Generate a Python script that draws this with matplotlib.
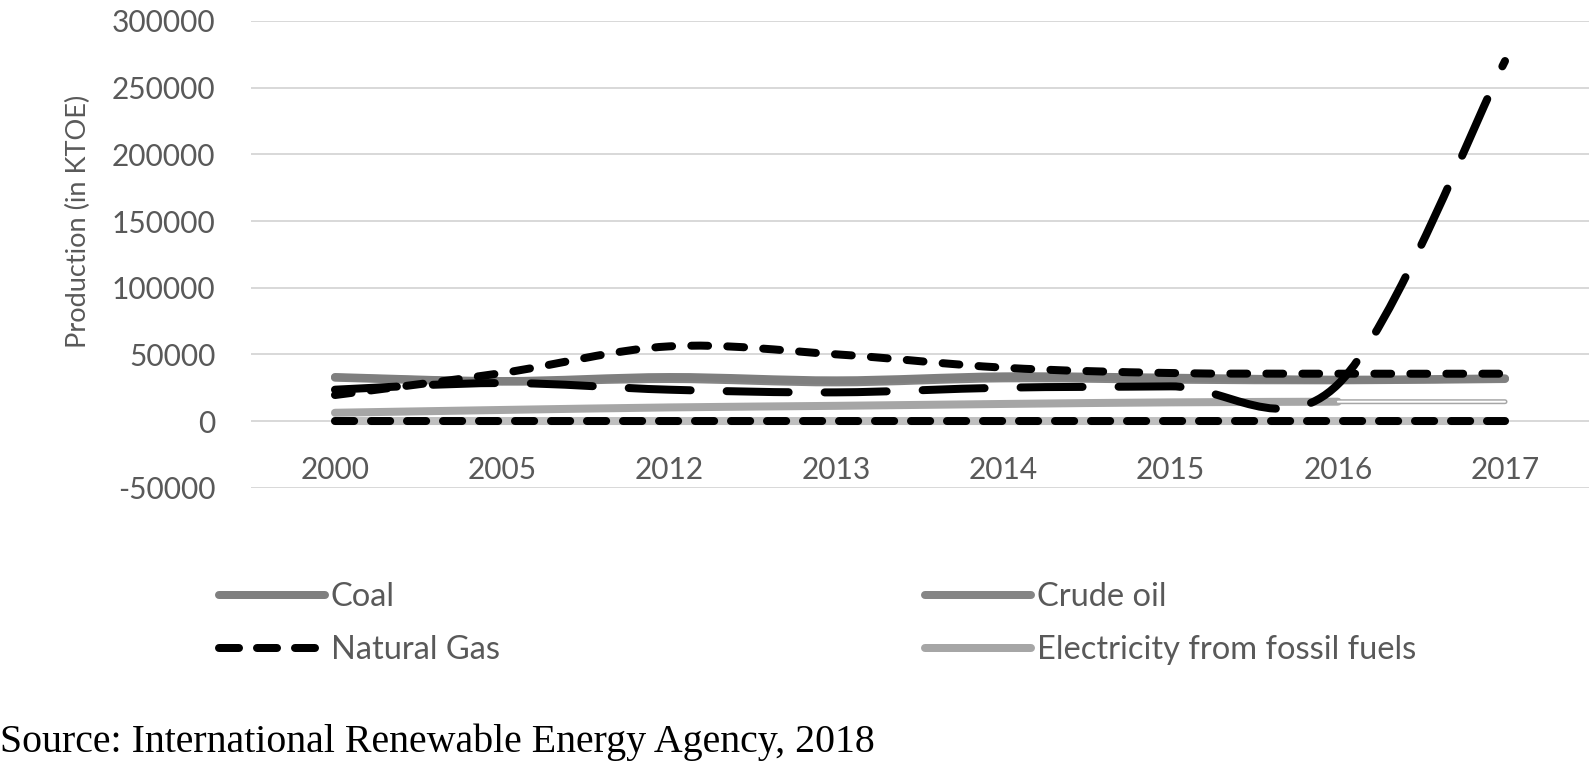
import matplotlib
matplotlib.use("Agg")
import matplotlib.pyplot as plt
from matplotlib.path import Path
from matplotlib.patches import PathPatch
from matplotlib.lines import Line2D

# ---- data (values in KTOE) ----
years = ['2000', '2005', '2012', '2013', '2014', '2015', '2016', '2017']
coal = [33000, 30000, 33000, 30500, 33500, 32500, 31000, 32000]
crude_oil = [32500, 29500, 31500, 29000, 32000, 31000, 30500, 31500]
natural_gas = [19500, 36000, 56000, 50000, 40000, 36000, 35500, 35500]
electricity = [6200, 8300, 10200, 11400, 12800, 14000, 14500]          # 2000-2016
series_long_dash = [23500, 28500, 23500, 21500, 25000, 26000, 27500, 270000]
series_zero_dots = [0, 0, 0, 0, 0, 0, 0, 0]
series_zero_gray = [0, 0, 0, 0, 0, 0, 0, 0]
series_hollow = [14500, 14500]                                          # 2016-2017
yticks = [-50000, 0, 50000, 100000, 150000, 200000, 250000, 300000]

plt.rcParams['font.family'] = ['Lato', 'DejaVu Sans']
TXT = '#595959'
PX = 72 / 100.0  # points per pixel at dpi 100

fig = plt.figure(figsize=(15.94, 7.62), dpi=100)
ax = fig.add_axes([251.4 / 1594, (762 - 487.7) / 762, 1337.2 / 1594, 466.7 / 762])


def smooth_path(xs, ys):
    """Excel-like smoothed line: cubic Bezier through the points."""
    n = len(xs)
    verts = [(xs[0], ys[0])]
    codes = [Path.MOVETO]
    for i in range(n - 1):
        x0, y0 = xs[i], ys[i]
        x1, y1 = xs[i + 1], ys[i + 1]
        xp, yp = (xs[i - 1], ys[i - 1]) if i > 0 else (x0, y0)
        xn, yn = (xs[i + 2], ys[i + 2]) if i + 2 < n else (x1, y1)
        c1 = (x0 + (x1 - xp) / 6.0, y0 + (y1 - yp) / 6.0)
        c2 = (x1 - (xn - x0) / 6.0, y1 - (yn - y0) / 6.0)
        verts += [c1, c2, (x1, y1)]
        codes += [Path.CURVE4] * 3
    return Path(verts, codes)


def draw(start, values, color, lw_px, dashes=None, z=2):
    xs = list(range(start, start + len(values)))
    ls = '-' if dashes is None else (0, dashes)
    p = PathPatch(smooth_path(xs, values), fill=False, edgecolor=color,
                  lw=lw_px * PX, linestyle=ls, capstyle='round',
                  joinstyle='round', zorder=z)
    ax.add_patch(p)


LW = 8
draw(0, series_zero_gray, '#bfbfbf', LW, z=2)
draw(0, electricity, '#a6a6a6', LW, z=2)
draw(6, series_hollow, '#a6a6a6', 5, z=2)
draw(6, series_hollow, 'white', 2, z=2.05)
draw(0, crude_oil, '#858585', LW, z=2.1)
draw(0, coal, '#7f7f7f', LW, z=2.2)
draw(0, series_zero_dots, 'black', LW, dashes=(2.4, 2.1), z=3)
draw(0, series_long_dash, 'black', LW, dashes=(7.75, 4.5), z=3.1)
draw(0, natural_gas, 'black', LW, dashes=(2.1, 2.4), z=3.2)

ax.set_xlim(-0.5, len(years) - 0.5)
ax.set_ylim(-50000, 300000)
ax.set_xticks(range(len(years)))
ax.set_xticklabels(years)
ax.set_yticks(yticks)
ax.set_yticklabels([str(v) for v in yticks])
ax.grid(axis='y', color='#d9d9d9', lw=2 * PX)
ax.set_axisbelow(True)
for s in ax.spines.values():
    s.set_visible(False)
ax.spines['bottom'].set_position(('data', 0))
ax.tick_params(axis='both', length=0, labelsize=21.5, labelcolor=TXT)
ax.tick_params(axis='y', pad=26)
ax.tick_params(axis='x', pad=25)
ax.set_ylabel('Production (in KTOE)', fontsize=19.5, color=TXT, va='center')
ax.yaxis.set_label_coords(-0.129, 0.5715)

# ---- legend (two columns, as in the reference) ----
def handle(color, dashes=None):
    if dashes is None:
        return Line2D([], [], color=color, lw=LW * PX, solid_capstyle='round')
    return Line2D([], [], color=color, lw=LW * PX, dashes=dashes,
                  dash_capstyle='round')

LFS = 23.5
common = dict(frameon=False, fontsize=LFS, handlelength=106 / (LFS / PX),
              handletextpad=6 / (LFS / PX), labelspacing=0.70, borderpad=0,
              borderaxespad=0, loc='upper left', bbox_transform=fig.transFigure,
              labelcolor=TXT)
leg1 = fig.legend([handle('#7f7f7f'), handle('black', (2.5, 2.25))],
                  ['Coal', 'Natural Gas'], bbox_to_anchor=(219 / 1594, 0.236), **common)
leg2 = fig.legend([handle('#858585'), handle('#a6a6a6')],
                  ['Crude oil', 'Electricity from fossil fuels'],
                  bbox_to_anchor=(925 / 1594, 0.236), **common)

fig.text(0.0, (762 - 742) / 762, 'Source: International Renewable Energy Agency, 2018',
         fontsize=28.7, family='Liberation Serif', color='black', ha='left', va='center')

fig.savefig('out.png', dpi=100)
